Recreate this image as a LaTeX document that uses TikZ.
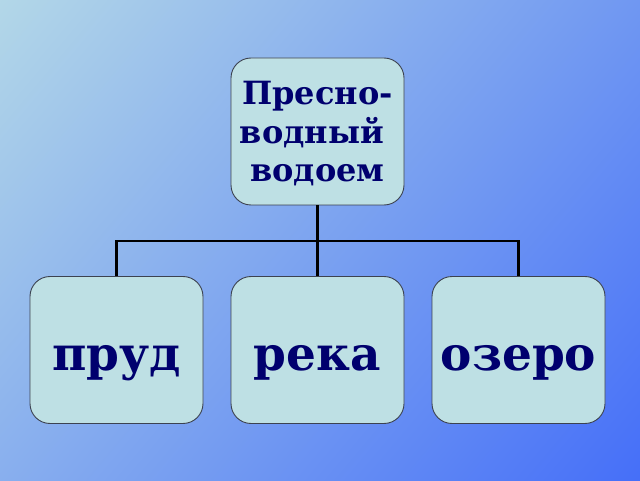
\documentclass[tikz,border=0pt]{standalone}
\usepackage{fontspec}
\setmainfont{DejaVu Serif}
\definecolor{bgA}{RGB}{190,226,230}
\definecolor{bgB}{RGB}{128,170,236}
\definecolor{bgC}{RGB}{58,100,250}
\definecolor{boxfill}{RGB}{190,224,228}
\definecolor{boxline}{RGB}{60,66,80}
\definecolor{navy}{RGB}{0,0,110}
\tikzset{
  box/.style={draw=boxline, line width=0.9pt, fill=boxfill, rounded corners=20pt,
    minimum width=173pt, minimum height=147pt, inner sep=0pt, text=navy, font=\bfseries},
  conn/.style={draw=black, line width=2.4pt},
  bigtext/.style={text=navy, font=\bfseries\fontsize{47}{50}\selectfont, anchor=base}
}
\begin{document}
\begin{tikzpicture}[x=1pt,y=1pt]
\useasboundingbox (0,0) rectangle (640,480);
\shade[shading=axis, top color=bgA, middle color=bgB, bottom color=bgC, shading angle=50] (-200,-200) rectangle (840,680);
\node[box] (top) at (317.5,348.5) {};
\node[text=navy, font=\bfseries\fontsize{32}{38.5}\selectfont, align=center, anchor=north, inner sep=0pt] (toptext) at (317.5,399) {Пресно-\\водный\kern0.35em\\водоем};
\node[box] (left) at (116.5,130) {};
\node[box] (mid) at (317.5,130) {};
\node[box] (right) at (518.5,130) {};
\node[bigtext] (t1) at (116.5,110) {пруд};
\node[bigtext] (t2) at (317.5,110) {река};
\node[bigtext] (t3) at (518.5,110) {озеро};
\coordinate (j) at (317.5,239);
\draw[conn] (top.south) -- (j);
\draw[conn] (j) -- (mid.north);
\draw[conn] (j) -| (left.north);
\draw[conn] (j) -| (right.north);
\end{tikzpicture}
\end{document}
